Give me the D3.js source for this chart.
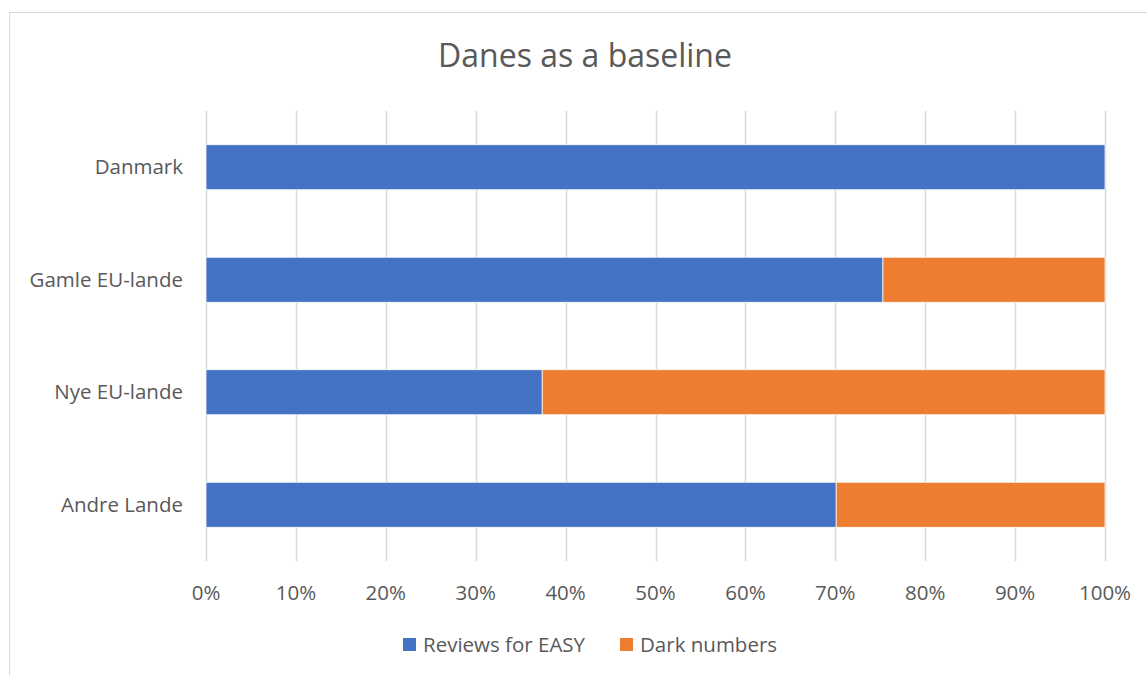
<!DOCTYPE html>
<html>
<head>
<meta charset="utf-8">
<script src="https://cdn.jsdelivr.net/npm/d3@7"></script>
<style>
  html, body { margin: 0; padding: 0; background: #fff; }
  svg { display: block; font-family: "Open Sans", "Liberation Sans", sans-serif; }
</style>
</head>
<body>
<svg id="chart" width="1147" height="675"></svg>
<script>
const categories = ["Danmark", "Gamle EU-lande", "Nye EU-lande", "Andre Lande"];
const reviews = [100, 75.3, 37.4, 70.1];
const dark = [0, 24.7, 62.6, 29.9];
const ticks = [0, 10, 20, 30, 40, 50, 60, 70, 80, 90, 100];
const seriesNames = ["Reviews for EASY", "Dark numbers"];
const colors = ["#4472C4", "#ED7D31"];

const svg = d3.select("#chart");
const textColor = "#595959";

// chart frame
svg.append("rect")
  .attr("x", 9.5).attr("y", 12.5)
  .attr("width", 1160).attr("height", 700)
  .attr("fill", "#fff")
  .attr("stroke", "#d9d9d9")
  .attr("stroke-width", 1);

svg.append("text")
  .attr("x", 585).attr("y", 67)
  .attr("text-anchor", "middle")
  .attr("font-size", 32)
  .attr("fill", textColor)
  .text("Danes as a baseline");

const x = d3.scaleLinear().domain([0, 100]).range([206, 1105]);
const y = d3.scaleBand().domain(categories).range([111, 561]).paddingInner(0.6).paddingOuter(0.3);

// gridlines
svg.append("g")
  .selectAll("line")
  .data(ticks)
  .join("line")
  .attr("x1", d => Math.round(x(d)) + 0.5)
  .attr("x2", d => Math.round(x(d)) + 0.5)
  .attr("y1", 111).attr("y2", 561)
  .attr("stroke", "#d9d9d9")
  .attr("stroke-width", 1.5);

const rows = categories.map((c, i) => ({ c, r: reviews[i], d: dark[i] }));

const bars = svg.append("g");
bars.selectAll("rect.rev")
  .data(rows)
  .join("rect")
  .attr("class", "rev")
  .attr("x", x(0))
  .attr("y", d => y(d.c))
  .attr("width", d => x(d.r) - x(0))
  .attr("height", y.bandwidth())
  .attr("fill", colors[0])
  .attr("stroke", "#fff")
  .attr("stroke-width", 0.75);

bars.selectAll("rect.dark")
  .data(rows.filter(d => d.d > 0))
  .join("rect")
  .attr("class", "dark")
  .attr("x", d => x(d.r))
  .attr("y", d => y(d.c))
  .attr("width", d => x(d.r + d.d) - x(d.r))
  .attr("height", y.bandwidth())
  .attr("fill", colors[1])
  .attr("stroke", "#fff")
  .attr("stroke-width", 0.75);

// category labels
svg.append("g")
  .selectAll("text")
  .data(categories)
  .join("text")
  .attr("x", 183)
  .attr("y", d => y(d) + y.bandwidth() / 2)
  .attr("dy", "0.35em")
  .attr("text-anchor", "end")
  .attr("font-size", 20.5)
  .attr("fill", textColor)
  .text(d => d);

// tick labels
svg.append("g")
  .selectAll("text")
  .data(ticks)
  .join("text")
  .attr("x", d => x(d))
  .attr("y", 593)
  .attr("dy", "0.35em")
  .attr("text-anchor", "middle")
  .attr("font-size", 20.5)
  .attr("fill", textColor)
  .text(d => d + "%");

// legend
const legendX = [403, 620];
const legend = svg.append("g")
  .selectAll("g")
  .data(seriesNames)
  .join("g")
  .attr("transform", (d, i) => `translate(${legendX[i]},645)`);
legend.append("rect")
  .attr("x", 0).attr("y", -7)
  .attr("width", 13).attr("height", 13)
  .attr("fill", (d, i) => colors[i]);
legend.append("text")
  .attr("x", 20).attr("y", 0)
  .attr("dy", "0.35em")
  .attr("font-size", 20.5)
  .attr("fill", textColor)
  .text(d => d);
</script>
</body>
</html>
